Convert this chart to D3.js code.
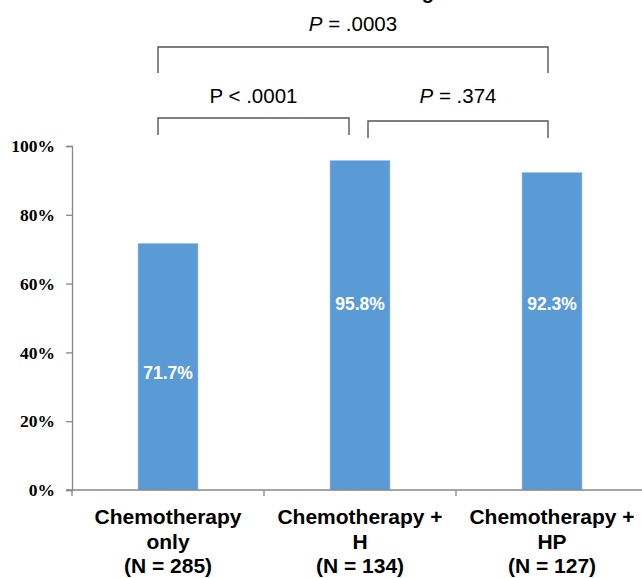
<!DOCTYPE html>
<html>
<head>
<meta charset="utf-8">
<script src="https://cdn.jsdelivr.net/npm/d3@7"></script>
<style>
  body { margin: 0; background: #fff; }
  svg { display: block; }
</style>
</head>
<body>
<svg id="chart" width="642" height="578"></svg>
<script>
const groups = ["Chemotherapy only", "Chemotherapy + H", "Chemotherapy + HP"];
const groupLines = [
  ["Chemotherapy", "only", "(N = 285)"],
  ["Chemotherapy +", "H", "(N = 134)"],
  ["Chemotherapy +", "HP", "(N = 127)"]
];
const rates = [71.7, 95.8, 92.3];
const labelAt = [34, 54, 54];
const yTicks = [0, 20, 40, 60, 80, 100];

// pairwise comparisons shown above the bars
const compFrom = [0, 0, 1];
const compTo = [2, 1, 2];
const compItalic = [true, false, true];
const compText = [" = .0003", " < .0001", " = .374"];
const compLevel = [2, 1, 1];

const svg = d3.select("#chart");
const margin = { left: 72, right: -6, top: 146, bottom: 88 };
const width = 642, height = 578;

const x = d3.scaleBand()
  .domain(groups)
  .range([margin.left, width - margin.right])
  .paddingInner(0.6875)
  .paddingOuter(0.34375);

const y = d3.scaleLinear()
  .domain([0, 100])
  .range([height - margin.bottom, margin.top]);

const axisColor = "#878787";

// title, cut off by the top edge as in the source
svg.append("text")
  .attr("x", 434)
  .attr("y", -1)
  .attr("text-anchor", "end")
  .attr("font-family", "Liberation Sans, Arial, sans-serif")
  .attr("font-weight", "bold")
  .attr("font-size", 20)
  .text("Overall Survival Following");

// bars
svg.append("g")
  .selectAll("rect")
  .data(groups)
  .enter()
  .append("rect")
  .attr("x", d => x(d))
  .attr("y", (d, i) => y(rates[i]))
  .attr("width", x.bandwidth())
  .attr("height", (d, i) => y(0) - y(rates[i]))
  .attr("fill", "#5b9bd5")
  .attr("stroke", "#a9c9ea")
  .attr("stroke-width", 0.6);

// value labels
svg.append("g")
  .selectAll("text")
  .data(groups)
  .enter()
  .append("text")
  .attr("x", d => x(d) + x.bandwidth() / 2)
  .attr("y", (d, i) => y(labelAt[i]))
  .attr("dy", "0.35em")
  .attr("text-anchor", "middle")
  .attr("fill", "#fff")
  .attr("font-family", "Liberation Sans, Arial, sans-serif")
  .attr("font-weight", "bold")
  .attr("font-size", 17.5)
  .text((d, i) => rates[i].toFixed(1) + "%");

// y axis
const yAxis = svg.append("g")
  .attr("transform", `translate(${margin.left},0)`)
  .call(d3.axisLeft(y).tickValues(yTicks).tickSize(6).tickPadding(11).tickFormat(d => d + "%"));
yAxis.select(".domain").attr("stroke", axisColor).attr("stroke-width", 1.3);
yAxis.selectAll(".tick line").attr("stroke", axisColor).attr("stroke-width", 1.3);
yAxis.selectAll(".tick text")
  .attr("fill", "#000")
  .attr("font-family", "Liberation Serif, Times New Roman, serif")
  .attr("font-weight", "bold")
  .attr("font-size", 17.5);

// x axis with boundary ticks between groups
const xg = svg.append("g").attr("transform", `translate(0,${y(0)})`);
xg.append("line")
  .attr("x1", margin.left - 6).attr("x2", width)
  .attr("stroke", axisColor).attr("stroke-width", 1.3);
const step = x.step();
xg.selectAll("line.b")
  .data(d3.range(groups.length))
  .enter()
  .append("line")
  .attr("class", "b")
  .attr("x1", i => margin.left + i * step)
  .attr("x2", i => margin.left + i * step)
  .attr("y1", 0).attr("y2", 6)
  .attr("stroke", axisColor).attr("stroke-width", 1.3);

// category labels
const catText = svg.append("g")
  .selectAll("text")
  .data(groups)
  .enter()
  .append("text")
  .attr("text-anchor", "middle")
  .attr("font-family", "Liberation Sans, Arial, sans-serif")
  .attr("font-weight", "bold")
  .attr("font-size", 21)
  .attr("fill", "#000");
catText.each(function (d, i) {
  const t = d3.select(this);
  groupLines[i].forEach((line, j) => {
    t.append("tspan")
      .attr("x", x(d) + x.bandwidth() / 2)
      .attr("y", y(0) + 34 + j * 24.5)
      .text(line);
  });
});

// significance brackets
const center = i => x(groups[i]) + x.bandwidth() / 2;
const brTop = { 1: 118, 2: 47 };
const legLen = { 1: 17, 2: 26 };
const brackets = svg.append("g").attr("fill", "none");
compFrom.forEach((f, k) => {
  const lv = compLevel[k];
  let x1 = center(f) - 10;
  let x2 = center(compTo[k]) - 4;
  let top = brTop[lv];
  if (lv === 1 && f === 0) x2 = center(compTo[k]) - 11;
  if (lv === 1 && f === 1) { x1 = center(f) + 8; top += 3; }
  brackets.append("path")
    .attr("d", `M${x1},${top + legLen[lv]}V${top}H${x2}V${top + legLen[lv]}`)
    .attr("stroke", "#555")
    .attr("stroke-width", 1.4);
  const label = svg.append("text")
    .attr("x", (x1 + x2) / 2)
    .attr("y", lv === 2 ? 31 : 103)
    .attr("text-anchor", "middle")
    .attr("font-family", "Liberation Sans, Arial, sans-serif")
    .attr("font-size", 20.5)
    .attr("fill", "#000");
  label.append("tspan")
    .attr("font-style", compItalic[k] ? "italic" : "normal")
    .text("P");
  label.append("tspan").text(compText[k]);
});
</script>
</body>
</html>
